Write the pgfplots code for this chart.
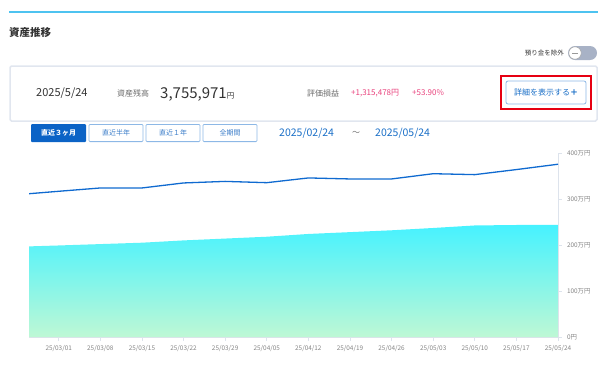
\documentclass[border=0pt]{standalone}
\usepackage{fontspec}
\setmainfont{Noto Sans CJK JP}
\usepackage{pgfplots}
\pgfplotsset{compat=1.18}
\definecolor{toprule}{HTML}{4DC3F0}
\definecolor{boxc}{HTML}{E1E6EF}
\definecolor{txt}{HTML}{333333}
\definecolor{gtxt}{HTML}{6E6E6E}
\definecolor{pinkc}{HTML}{E8417C}
\definecolor{redc}{HTML}{E60012}
\definecolor{btnb}{HTML}{8DB8E6}
\definecolor{btnt}{HTML}{3A7CC8}
\definecolor{btnfill}{HTML}{0B63C6}
\definecolor{datec}{HTML}{1A6FC7}
\definecolor{linec}{HTML}{0F6AD0}
\definecolor{filltop}{HTML}{46F2FF}
\definecolor{fillbot}{HTML}{BEF8D5}
\definecolor{axisc}{HTML}{DDE3EC}
\definecolor{tickc}{HTML}{858585}
\definecolor{togc}{HTML}{A8B2C6}
\begin{document}
\begin{tikzpicture}[x=1pt,y=-1pt]
\path[use as bounding box] (0,0) rectangle (610,365);
% top rule
\draw[toprule, line width=1.2pt] (9,12) -- (598,12);
\node[anchor=west, inner sep=0, text=txt, font=\fontsize{10.5}{12}\selectfont\bfseries] at (9,33) {資産推移};
% toggle
\node[anchor=east, inner sep=0, text=txt, font=\fontsize{6.5}{8}\selectfont] at (564,53) {預り金を除外};
\fill[togc, rounded corners=7pt] (568,46) rectangle (597,60);
\draw[fill=white, draw=gray!70, line width=0.5pt] (575,53) circle (6.2);
\draw[gray!80, line width=0.6pt] (572.3,53) -- (577.7,53);
% summary box
\draw[boxc, line width=1.5pt, rounded corners=1.5pt] (10,66) rectangle (597,121);
\node[anchor=west, inner sep=0, text=txt, font=\fontsize{11}{13}\selectfont] at (36,93) {2025/5/24};
\node[anchor=west, inner sep=0, text=gtxt, font=\fontsize{8}{9}\selectfont] at (117,93) {資産残高};
\node[anchor=base west, inner sep=0, text=txt] at (160,98.5) {\fontsize{15}{17}\selectfont 3,755,971\fontsize{7.5}{9}\selectfont 円};
\node[anchor=west, inner sep=0, text=gtxt, font=\fontsize{8}{9}\selectfont] at (307,93) {評価損益};
\node[anchor=west, inner sep=0, text=pinkc, font=\fontsize{8}{9}\selectfont] at (351,93) {+1,315,478円};
\node[anchor=west, inner sep=0, text=pinkc, font=\fontsize{8}{9}\selectfont] at (412,93) {+53.90\%};
\draw[redc, line width=2.5pt] (501,76) rectangle (591,109);
\draw[btnb, line width=0.8pt, rounded corners=2pt, fill=white] (506,81) rectangle (586,104);
\node[inner sep=0, text=datec, font=\fontsize{8}{9}\selectfont] at (546,92.5) {詳細を表示する\textbf{＋}};
% period buttons
\fill[btnfill, rounded corners=1pt] (31,124) rectangle (86,142);
\node[inner sep=0, text=white, font=\fontsize{7}{8}\selectfont\bfseries] at (58.5,133) {直近３ヶ月};
\draw[btnb, line width=0.8pt, rounded corners=1pt] (89,124.4) rectangle (143,141.6);
\node[inner sep=0, text=btnt, font=\fontsize{7}{8}\selectfont] at (116,133) {直近半年};
\draw[btnb, line width=0.8pt, rounded corners=1pt] (146,124.4) rectangle (200,141.6);
\node[inner sep=0, text=btnt, font=\fontsize{7}{8}\selectfont] at (173,133) {直近１年};
\draw[btnb, line width=0.8pt, rounded corners=1pt] (203,124.4) rectangle (257,141.6);
\node[inner sep=0, text=btnt, font=\fontsize{7}{8}\selectfont] at (230,133) {全期間};
\node[anchor=west, inner sep=0, text=datec, font=\fontsize{10.5}{12}\selectfont] at (279,133) {2025/02/24};
\node[inner sep=0, text=gtxt, font=\fontsize{8}{9}\selectfont] at (356,133) {～};
\node[anchor=west, inner sep=0, text=datec, font=\fontsize{10.5}{12}\selectfont] at (375,133) {2025/05/24};
% chart
\begin{axis}[
  at={(29pt,-337pt)}, anchor=south west,
  width=529pt, height=184pt, scale only axis,
  xmin=0, xmax=89, ymin=0, ymax=400,
  axis y line*=right, axis x line*=bottom,
  axis line style={draw=axisc, line width=0.8pt},
  xtick={5,12,19,26,33,40,47,54,61,68,75,82,89},
  xticklabels={25/03/01,25/03/08,25/03/15,25/03/22,25/03/29,25/04/05,25/04/12,25/04/19,25/04/26,25/05/03,25/05/10,25/05/17,25/05/24},
  ytick={0,100,200,300,400},
  yticklabels={0円,100万円,200万円,300万円,400万円},
  tick align=outside, major tick length=4pt,
  tick style={draw=axisc, line width=0.8pt},
  ticklabel style={font=\fontsize{6.4}{7}\selectfont, text=tickc},
  xticklabel style={yshift=-1pt},
  yticklabel style={anchor=west, xshift=1.5pt},
  /pgf/number format/assume math mode=true,
]
\addplot[draw=none, top color=filltop, bottom color=fillbot] coordinates {
(0,197) (5,199) (12,202) (19,205) (26,210) (33,214) (40,218) (47,224) (54,228) (61,232) (68,237) (75,242.5) (82,243.5) (89,244.0)
} \closedcycle;
\addplot[linec, line width=1.3pt, no marks] coordinates {
(0,311.5) (5,316.8) (12,324) (19,324) (26,334.9) (33,338.3) (40,335.5) (47,345.8) (54,343.6) (61,343.6) (68,355) (75,353) (82,364) (89,375.6)
};
\end{axis}
\end{tikzpicture}
\end{document}
